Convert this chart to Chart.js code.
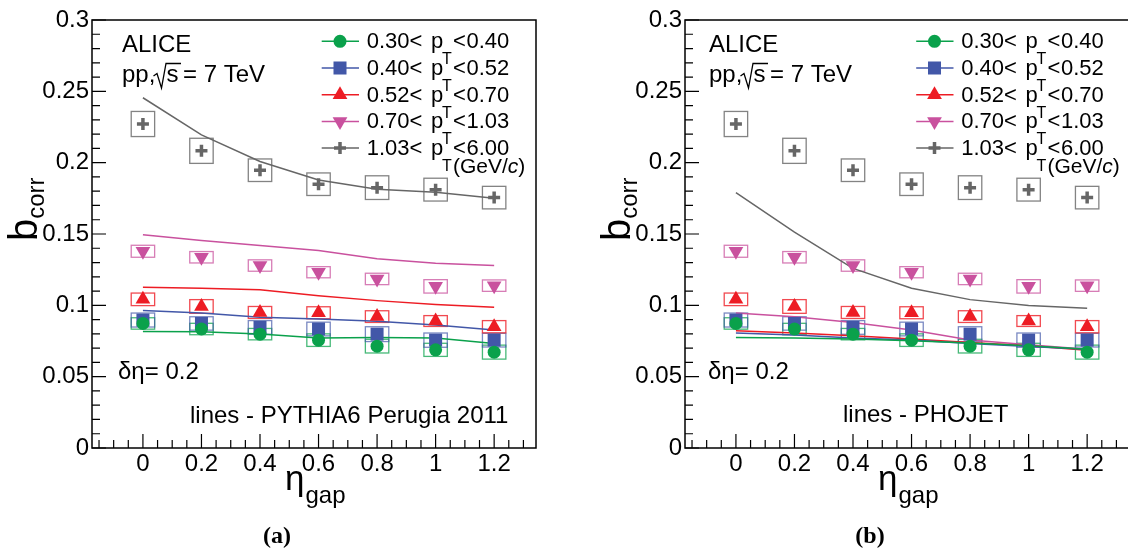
<!DOCTYPE html>
<html>
<head>
<meta charset="utf-8">
<script src="https://cdn.jsdelivr.net/npm/chart.js@4.4.1/dist/chart.umd.min.js"></script>
<style>
  body { margin: 0; background: #fff; width: 1128px; height: 550px; overflow: hidden; position: relative; }
  .panel { position: absolute; top: 0; width: 564px; height: 550px; }
</style>
</head>
<body>
<div class="panel" style="left:0"><canvas id="chartA" width="564" height="550"></canvas></div>
<div class="panel" style="left:593px"><canvas id="chartB" width="564" height="550"></canvas></div>
<script>
// ================= DATA =================
const etaGap = [0, 0.2, 0.4, 0.6, 0.8, 1.0, 1.2];
const xTicks = [0, 0.2, 0.4, 0.6, 0.8, 1, 1.2];
const yTicks = [0, 0.05, 0.1, 0.15, 0.2, 0.25, 0.3];
const ptLow = ["0.30", "0.40", "0.52", "0.70", "1.03"];
const ptHigh = ["0.40", "0.52", "0.70", "1.03", "6.00"];

// ALICE data (same in both panels)
const dataPt1 = [0.0873, 0.0834, 0.0798, 0.0756, 0.0714, 0.0688, 0.0672];
const dataPt2 = [0.0897, 0.0873, 0.0845, 0.0834, 0.0798, 0.0756, 0.0756];
const dataPt3 = [0.1042, 0.0992, 0.0950, 0.0948, 0.0921, 0.0890, 0.0850];
const dataPt4 = [0.1379, 0.1337, 0.1279, 0.1232, 0.1185, 0.1133, 0.1138];
const dataPt5 = [0.2271, 0.2083, 0.1947, 0.1849, 0.1825, 0.1811, 0.1755];

// systematic errors (boxes)
const sysPt1 = [0.0040, 0.0040, 0.0040, 0.0044, 0.0048, 0.0046, 0.0049];
const sysPt2 = [0.0049, 0.0047, 0.0048, 0.0048, 0.0052, 0.0050, 0.0048];
const sysPt3 = [0.0044, 0.0048, 0.0042, 0.0042, 0.0041, 0.0038, 0.0043];
const sysPt4 = [0.0042, 0.0040, 0.0040, 0.0039, 0.0040, 0.0047, 0.0040];
const sysPt5 = [0.0088, 0.0088, 0.0079, 0.0079, 0.0083, 0.0080, 0.0079];

// PYTHIA6 Perugia 2011 lines
const pythiaPt1 = [0.0817, 0.0815, 0.0799, 0.0771, 0.0775, 0.0771, 0.0733];
const pythiaPt2 = [0.0963, 0.0946, 0.0916, 0.0904, 0.0888, 0.0862, 0.0827];
const pythiaPt3 = [0.1126, 0.1119, 0.1110, 0.1068, 0.1033, 0.1005, 0.0986];
const pythiaPt4 = [0.1494, 0.1454, 0.1419, 0.1384, 0.1326, 0.1295, 0.1279];
const pythiaPt5 = [0.2455, 0.2195, 0.2008, 0.1878, 0.1814, 0.1792, 0.1750];

// PHOJET lines
const phojetPt1 = [0.0775, 0.0771, 0.0764, 0.0752, 0.0736, 0.0717, 0.0693];
const phojetPt2 = [0.0806, 0.0792, 0.0771, 0.0757, 0.0733, 0.0712, 0.0693];
const phojetPt3 = [0.0822, 0.0806, 0.0787, 0.0764, 0.0740, 0.0717, 0.0686];
const phojetPt4 = [0.0946, 0.0920, 0.0880, 0.0827, 0.0757, 0.0724, 0.0693];
const phojetPt5 = [0.1790, 0.1513, 0.1259, 0.1120, 0.1040, 0.0999, 0.0980];

const allData = [dataPt1, dataPt2, dataPt3, dataPt4, dataPt5];
const allSys = [sysPt1, sysPt2, sysPt3, sysPt4, sysPt5];

// ================= STYLE =================
const FONT = "'Liberation Sans', Arial, sans-serif";
const styles = [
  { color: "#0aa14b", box: "rgba(10,161,75,0.75)", point: "circle", r: 6.5, rot: 0 },
  { color: "#4257a8", box: "rgba(66,87,168,0.7)", point: "rect", r: 9.2, rot: 0 },
  { color: "#ed1c24", box: "rgba(237,28,36,0.8)", point: "triangle", r: 8.5, rot: 0 },
  { color: "#c9519e", box: "rgba(201,81,158,0.75)", point: "triangle", r: 8.5, rot: 180 },
  { color: "#666666", box: "rgba(100,100,100,0.8)", point: "cross", r: 6, rot: 0 }
];
const boxHalf = 0.04;

function pts(vals) {
  return vals.map((v, i) => ({ x: etaGap[i], y: v }));
}

function makeDatasets(models) {
  const ds = [];
  models.forEach((m, s) => {
    ds.push({
      data: pts(m), showLine: true, borderColor: styles[s].color, borderWidth: 1.5,
      pointRadius: 0, fill: false, order: 2
    });
  });
  allData.forEach((d, s) => {
    const st = styles[s];
    ds.push({
      data: pts(d), showLine: false, pointStyle: st.point, pointRadius: st.r,
      pointRotation: st.rot, backgroundColor: st.color, borderColor: st.color,
      pointBorderWidth: st.point === "cross" ? 3.5 : 0, order: 1
    });
  });
  return ds;
}

function txt(ctx, s, x, y, size, opt = {}) {
  ctx.font = (opt.style || "") + " " + size + "px " + (opt.family || FONT);
  ctx.textAlign = opt.align || "left";
  ctx.textBaseline = "alphabetic";
  ctx.fillStyle = "#000";
  ctx.fillText(s, x, y);
  return ctx.measureText(s).width;
}

function marker(ctx, st, x, y) {
  ctx.fillStyle = st.color;
  ctx.strokeStyle = st.color;
  ctx.beginPath();
  if (st.point === "circle") {
    ctx.arc(x, y, st.r, 0, Math.PI * 2);
    ctx.fill();
  } else if (st.point === "rect") {
    const h = st.r * Math.SQRT1_2;
    ctx.fillRect(x - h, y - h, 2 * h, 2 * h);
  } else if (st.point === "triangle") {
    const sg = st.rot ? -1 : 1, r = st.r;
    ctx.moveTo(x, y - sg * r);
    ctx.lineTo(x + r * 0.866, y + sg * r / 2);
    ctx.lineTo(x - r * 0.866, y + sg * r / 2);
    ctx.closePath();
    ctx.fill();
  } else {
    ctx.lineWidth = 3.5;
    ctx.moveTo(x - st.r, y); ctx.lineTo(x + st.r, y);
    ctx.moveTo(x, y - st.r); ctx.lineTo(x, y + st.r);
    ctx.stroke();
  }
}

// ================= ROOT-LIKE DECORATION =================
const rootStyle = {
  id: "rootStyle",
  beforeDatasetsDraw(chart) {
    const { ctx } = chart, xs = chart.scales.x, ys = chart.scales.y;
    ctx.save();
    ctx.lineWidth = 1.3;
    allData.forEach((vals, s) => {
      ctx.strokeStyle = styles[s].box;
      vals.forEach((v, i) => {
        const x1 = xs.getPixelForValue(etaGap[i] - boxHalf);
        const x2 = xs.getPixelForValue(etaGap[i] + boxHalf);
        const y1 = ys.getPixelForValue(v + allSys[s][i]);
        const y2 = ys.getPixelForValue(v - allSys[s][i]);
        ctx.strokeRect(x1, y1, x2 - x1, y2 - y1);
      });
    });
    ctx.restore();
  },
  afterDraw(chart, args, o) {
    const { ctx, chartArea: a } = chart, xs = chart.scales.x, ys = chart.scales.y;
    ctx.save();
    // frame
    ctx.strokeStyle = "#000";
    ctx.lineWidth = 1.5;
    ctx.strokeRect(a.left, a.top, a.right - a.left, a.bottom - a.top);
    // inward ticks
    ctx.lineWidth = 1.2;
    ctx.beginPath();
    for (let k = 0; k <= 30; k++) {
      const y = ys.getPixelForValue(k / 100), len = k % 5 === 0 ? 14 : 8;
      ctx.moveTo(a.left, y); ctx.lineTo(a.left + len, y);
    }
    for (let k = -3; k <= 26; k++) {
      const v = k * 0.05;
      if (v < xs.min || v > xs.max) continue;
      const x = xs.getPixelForValue(v), len = k % 4 === 0 ? 14 : 8;
      ctx.moveTo(x, a.bottom); ctx.lineTo(x, a.bottom - len);
    }
    ctx.stroke();

    const dx = o.textDx, lx = o.legendDx;
    // ALICE label
    txt(ctx, "ALICE", 122 + dx, 52, 24);
    txt(ctx, "pp,", 122 + dx, 81.7, 24);
    ctx.lineWidth = 1.3;
    ctx.beginPath();
    ctx.moveTo(153.5 + dx, 76); ctx.lineTo(157 + dx, 73.5); ctx.lineTo(161.5 + dx, 88);
    ctx.lineTo(166 + dx, 63.5); ctx.lineTo(181 + dx, 63.5);
    ctx.stroke();
    txt(ctx, "s", 166.5 + dx, 81.7, 24);
    txt(ctx, "= 7 TeV", 183 + dx, 81.7, 24);
    txt(ctx, "\u03b4\u03b7= 0.2", 118 + o.etaDx, 379.3, 24);
    txt(ctx, o.modelText, o.modelX, o.modelY, 24);

    // legend
    for (let s = 0; s < 5; s++) {
      const base = 48.3 + 26.7 * s, cy = base - 7;
      ctx.strokeStyle = styles[s].color;
      ctx.lineWidth = 1.5;
      ctx.beginPath();
      ctx.moveTo(321.7 + lx, cy); ctx.lineTo(359 + lx, cy);
      ctx.stroke();
      marker(ctx, styles[s], 340 + lx, cy);
      txt(ctx, ptLow[s] + "<", 366.7 + lx, base, 22);
      txt(ctx, "p", 431 + lx, base, 22);
      txt(ctx, "T", 442 + lx, base + 16, 16);
      txt(ctx, "<", 453 + lx, base, 22);
      txt(ctx, ptHigh[s], 466.5 + lx, base, 22);
    }
    let gx = 453 + lx;
    gx += txt(ctx, "(GeV/", gx, 173, 21);
    gx += txt(ctx, "c", gx, 173, 21, { style: "italic" });
    txt(ctx, ")", gx, 173, 21);

    // axis titles
    ctx.save();
    ctx.translate(37, 241);
    ctx.rotate(-Math.PI / 2);
    const bw = txt(ctx, "b", 0, 0, 40);
    txt(ctx, "corr", bw, 6.5, 24);
    ctx.restore();
    const ew = txt(ctx, "\u03b7", 285, 490, 35);
    txt(ctx, "gap", 285 + ew + 1, 503, 24);

    // caption
    txt(ctx, o.caption, 277, 543, 24, { style: "bold", family: "'Liberation Serif', serif", align: "center" });
    ctx.restore();
  }
};

function makeChart(id, models, deco) {
  return new Chart(document.getElementById(id), {
    type: "scatter",
    data: { datasets: makeDatasets(models) },
    plugins: [rootStyle],
    options: {
      responsive: false,
      animation: false,
      layout: { padding: { left: 0, right: 28, top: 20, bottom: 0 } },
      plugins: { legend: { display: false }, tooltip: { enabled: false }, rootStyle: deco },
      scales: {
        x: {
          type: "linear", min: -0.174, max: 1.343,
          grid: { display: false, drawTicks: false }, border: { display: false },
          afterBuildTicks: s => { s.ticks = xTicks.map(v => ({ value: v })); },
          afterFit: s => { s.height = 102; },
          ticks: { padding: 2, autoSkip: false, maxRotation: 0, color: "#000",
                   font: { family: FONT, size: 24 }, callback: v => String(v) }
        },
        y: {
          type: "linear", min: 0, max: 0.3,
          grid: { display: false, drawTicks: false }, border: { display: false },
          afterBuildTicks: s => { s.ticks = yTicks.map(v => ({ value: v })); },
          afterFit: s => { s.width = 92; },
          ticks: { padding: 3, color: "#000", font: { family: FONT, size: 24 },
                   callback: v => String(v) }
        }
      }
    }
  });
}

makeChart("chartA", [pythiaPt1, pythiaPt2, pythiaPt3, pythiaPt4, pythiaPt5],
  { textDx: 0, legendDx: 0, etaDx: 0, modelText: "lines - PYTHIA6 Perugia 2011", modelX: 190, modelY: 423, caption: "(a)" });
makeChart("chartB", [phojetPt1, phojetPt2, phojetPt3, phojetPt4, phojetPt5],
  { textDx: -6, legendDx: 1.5, etaDx: -3, modelText: "lines - PHOJET", modelX: 250, modelY: 422, caption: "(b)" });
</script>
</body>
</html>
